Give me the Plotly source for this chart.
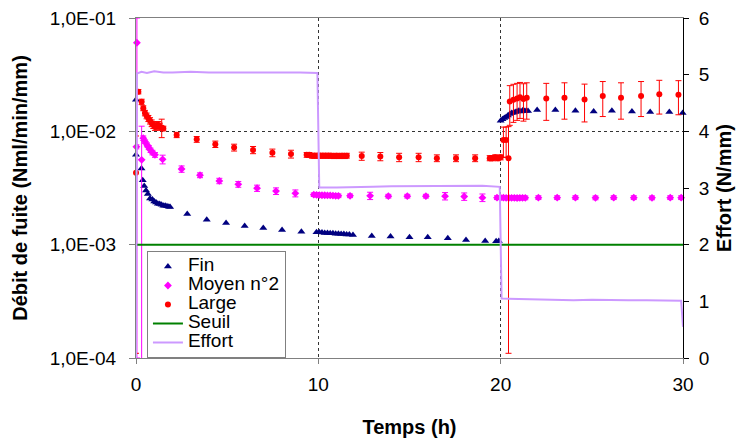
import plotly.graph_objects as go

# ---------------- data ----------------
fin_t = [0.0, 0.0, 0.3, 0.37, 0.45, 0.55, 0.65, 0.77, 0.9, 1.0, 1.1, 1.2, 1.3, 1.4, 1.5, 1.6, 1.7, 1.8, 1.87,
         2.81, 3.88, 4.94, 5.96, 6.98, 8.01, 9.07,
         9.9, 10.05, 10.2, 10.35, 10.5, 10.65, 10.8, 10.95, 11.1, 11.25, 11.4, 11.55, 11.7, 11.9,
         12.93, 13.96, 15.0, 16.0, 17.1, 18.1, 19.15, 19.75, 19.9,
         20.0, 20.1, 20.2, 20.3, 20.4, 20.5, 20.6, 20.7, 20.8, 20.9, 21.0, 21.1, 21.2, 21.3, 21.4, 21.5,
         22.0, 23.0, 24.1, 25.1, 26.1, 27.2, 28.2, 29.25, 29.98]
fin_v = [0.019, 0.0062, 0.0047, 0.0037, 0.0033, 0.0030, 0.0028, 0.00255, 0.0025, 0.0024, 0.00235, 0.0023, 0.00228, 0.00225, 0.0022, 0.0022, 0.00218, 0.00216, 0.00215,
         0.00186, 0.00166, 0.00155, 0.00146, 0.0014, 0.00135, 0.0013,
         0.00129, 0.00129, 0.00128, 0.00127, 0.00127, 0.00126, 0.00126, 0.00125, 0.00125, 0.00124, 0.00124, 0.00123, 0.00123, 0.00122,
         0.00119, 0.00118, 0.00116, 0.00116, 0.00114, 0.0011, 0.00108, 0.00107, 0.00108,
         0.0124, 0.0128, 0.0131, 0.0134, 0.0138, 0.0142, 0.0145, 0.0146, 0.0148, 0.015, 0.0152, 0.015, 0.0153, 0.0151, 0.0152, 0.0151,
         0.0154, 0.0154, 0.0152, 0.015, 0.0152, 0.015, 0.0148, 0.0148, 0.0145]

moy_t = [0.05, 0.02, 0.31, 0.4, 0.5, 0.6, 0.7, 0.8, 0.9, 1.04, 1.46, 2.5, 3.51, 4.57, 5.61, 6.64, 7.68, 8.74,
         9.75, 9.9, 10.05, 10.2, 10.35, 10.5, 10.65, 10.8, 10.95, 11.1,
         11.74, 12.84, 13.84, 14.88, 15.9, 16.95, 18.0, 19.0, 19.8,
         20.0, 20.15, 20.3, 20.45, 20.6, 20.75, 20.9, 21.05, 21.2, 21.35,
         22.07, 23.1, 24.1, 25.2, 26.2, 27.3, 28.3, 29.3, 29.9]
moy_v = [0.0605, 0.0073, 0.0056, 0.0087, 0.0081, 0.0076, 0.0072, 0.0068, 0.0065, 0.0062, 0.00566, 0.00465, 0.0041, 0.00365, 0.00341, 0.00315, 0.00297, 0.00284,
         0.00276, 0.00275, 0.00274, 0.00273, 0.00273, 0.00272, 0.00272, 0.00271, 0.0027, 0.0027,
         0.0027, 0.0027, 0.00268, 0.00268, 0.00268, 0.00268, 0.00266, 0.0026, 0.0026,
         0.0026, 0.0026, 0.00259, 0.00259, 0.00259, 0.00259, 0.00258, 0.00259, 0.00259, 0.00259,
         0.0026, 0.0026, 0.0026, 0.00259, 0.0026, 0.0026, 0.00259, 0.0026, 0.0026]
moy_err_plus = [0.0395, 0.0003, 0.0055, 0.0004, 0.0003, 0.0003, 0.0003, 0.0003, 0.0003, 0.0003, 0.0005, 0.0003, 0.0002, 0.0002, 0.0002, 0.0002, 0.0002, 0.0002,
                0.0001, 0.0001, 0.0001, 0.0001, 0.0001, 0.0001, 0.0001, 0.0001, 0.0001, 0.0001,
                0.0001, 0.0002, 0.0001, 0.0001, 0.0001, 0.0002, 0.0002, 0.0002, 0.0001,
                0.0001, 0.0001, 0.0001, 0.0001, 0.0001, 0.0001, 0.0001, 0.0001, 0.0001, 0.0001,
                0.0001, 0.0001, 0.0001, 0.0001, 0.0001, 0.0001, 0.0001, 0.0001, 0.0001]
moy_err_minus = [0.0604, 0.0003, 0.00551, 0.0004, 0.0003, 0.0003, 0.0003, 0.0003, 0.0003, 0.0003, 0.0005, 0.0003, 0.0002, 0.0002, 0.0002, 0.0002, 0.0002, 0.0002,
                 0.0001, 0.0001, 0.0001, 0.0001, 0.0001, 0.0001, 0.0001, 0.0001, 0.0001, 0.0001,
                 0.0001, 0.0002, 0.0001, 0.0001, 0.0001, 0.0002, 0.0002, 0.0002, 0.0001,
                 0.0001, 0.0001, 0.0001, 0.0001, 0.0001, 0.0001, 0.0001, 0.0001, 0.0001, 0.0001,
                 0.0001, 0.0001, 0.0001, 0.0001, 0.0001, 0.0001, 0.0001, 0.0001, 0.0001]

lar_t = [0.0, 0.13, 0.31, 0.4, 0.49, 0.58, 0.68, 0.77, 0.86, 0.95, 1.04, 1.13, 1.22, 1.31, 1.41, 1.5,
         2.23, 3.33, 4.35, 5.38, 6.42, 7.48, 8.5,
         9.36, 9.5, 9.65, 9.8, 9.95, 10.1, 10.25, 10.4, 10.55, 10.7, 10.85, 11.0, 11.15, 11.3, 11.45, 11.56,
         12.38, 13.4, 14.43, 15.5, 16.5, 17.55, 18.6,
         19.4, 19.55, 19.7, 19.85, 20.0, 20.15, 20.3, 20.43,
         20.5, 20.7, 20.9, 21.06, 21.25, 21.43,
         22.5, 23.5, 24.6, 25.6, 26.6, 27.7, 28.7, 29.75]
lar_v = [0.0043, 0.0224, 0.0182, 0.016, 0.0145, 0.0137, 0.013, 0.0124, 0.0118, 0.0114, 0.011, 0.0112, 0.0114, 0.011, 0.0108, 0.0106,
         0.0093, 0.0085, 0.0077, 0.0072, 0.00685, 0.00647, 0.00631,
         0.0062, 0.0062, 0.0061, 0.0061, 0.0061, 0.0061, 0.0061, 0.0061, 0.0061, 0.0061, 0.00605, 0.0061, 0.00605, 0.0061, 0.00605, 0.0061,
         0.00605, 0.006, 0.0059, 0.0059, 0.0058, 0.0058, 0.0058,
         0.0058, 0.0058, 0.0059, 0.0058, 0.0059, 0.0084, 0.0084, 0.0058,
         0.0183, 0.019, 0.0195, 0.02, 0.0193, 0.0198,
         0.0195, 0.0198, 0.0191, 0.0205, 0.0198, 0.0205, 0.0212, 0.021]
lar_err_plus = [0.0048, 0.001, 0.001, 0.0008, 0.0008, 0.0008, 0.0008, 0.0008, 0.0008, 0.0008, 0.0008, 0.0008, 0.0008, 0.0008, 0.002, 0.0005,
                0.0005, 0.0005, 0.0005, 0.0005, 0.0005, 0.0005, 0.0005,
                0.0003, 0.0003, 0.0003, 0.0003, 0.0003, 0.0003, 0.0003, 0.0003, 0.0003, 0.0003, 0.0003, 0.0003, 0.0003, 0.0003, 0.0003, 0.0003,
                0.0005, 0.0005, 0.0005, 0.0005, 0.0004, 0.0004, 0.0004,
                0.0003, 0.0003, 0.0003, 0.0003, 0.0003, 0.0025, 0.0025, 0.0052,
                0.007, 0.007, 0.007, 0.007, 0.007, 0.007,
                0.007, 0.007, 0.007, 0.007, 0.007, 0.007, 0.007, 0.007]
lar_err_minus = [0.00419, 0.001, 0.001, 0.0008, 0.0008, 0.0008, 0.0008, 0.0008, 0.0008, 0.0008, 0.0008, 0.0008, 0.0008, 0.0008, 0.002, 0.0005,
                 0.0005, 0.0005, 0.0005, 0.0005, 0.0005, 0.0005, 0.0005,
                 0.0003, 0.0003, 0.0003, 0.0003, 0.0003, 0.0003, 0.0003, 0.0003, 0.0003, 0.0003, 0.0003, 0.0003, 0.0003, 0.0003, 0.0003, 0.0003,
                 0.0005, 0.0005, 0.0005, 0.0005, 0.0004, 0.0004, 0.0004,
                 0.0003, 0.0003, 0.0003, 0.0003, 0.0003, 0.0025, 0.0025, 0.00569,
                 0.007, 0.007, 0.007, 0.007, 0.007, 0.007,
                 0.007, 0.007, 0.007, 0.007, 0.007, 0.007, 0.007, 0.007]

seuil_t = [0, 30]
seuil_v = [0.001, 0.001]

eff_t = [0.0, 0.05, 0.3, 0.6, 1.0, 1.5, 2.0, 3.0, 4.0, 5.0, 6.0, 7.0, 8.0, 9.0, 9.95,
         10.05, 11.0, 12.0, 13.0, 14.0, 15.0, 16.0, 17.0, 18.0, 19.0, 19.95,
         20.05, 21.0, 22.0, 23.0, 24.0, 25.0, 26.0, 27.0, 28.0, 29.0, 29.9, 30.0]
eff_v = [0.0, 5.02, 5.05, 5.03, 5.06, 5.04, 5.04, 5.05, 5.04, 5.04, 5.05, 5.04, 5.04, 5.04, 5.03,
         3.01, 3.01, 3.01, 3.02, 3.03, 3.03, 3.03, 3.04, 3.04, 3.04, 3.02,
         1.05, 1.04, 1.03, 1.02, 1.02, 1.03, 1.02, 1.02, 1.02, 1.01, 1.01, 0.55]

series_names = ["Fin", "Moyen n°2", "Large", "Seuil", "Effort"]
y_tickvals = [1e-4, 1e-3, 1e-2, 1e-1]
y_ticktext = ["1,0E-04", "1,0E-03", "1,0E-02", "1,0E-01"]
x_tickvals = [0, 10, 20, 30]
y2_tickvals = [0, 1, 2, 3, 4, 5, 6]

FONT = "Liberation Sans, Arial, sans-serif"


def leg(name):
    # larger legend text inside tightly spaced legend rows
    return "<span style='font-size:19px'>" + name + "</span>"


fig = go.Figure()
fig.add_trace(go.Scatter(
    x=fin_t, y=fin_v, name=leg(series_names[0]), mode="markers", cliponaxis=False,
    marker=dict(symbol="triangle-up", size=7, color="#000080")))
fig.add_trace(go.Scatter(
    x=moy_t, y=moy_v, name=leg(series_names[1]), mode="markers", cliponaxis=False,
    marker=dict(symbol="diamond", size=6, color="#FF00FF"),
    error_y=dict(type="data", symmetric=False, array=moy_err_plus, arrayminus=moy_err_minus,
                 color="#FF00FF", thickness=1, width=3)))
fig.add_trace(go.Scatter(
    x=lar_t, y=lar_v, name=leg(series_names[2]), mode="markers", cliponaxis=False,
    marker=dict(symbol="circle", size=6, color="#FF0000"),
    error_y=dict(type="data", symmetric=False, array=lar_err_plus, arrayminus=lar_err_minus,
                 color="#FF0000", thickness=1, width=3)))
fig.add_trace(go.Scatter(
    x=seuil_t, y=seuil_v, name=leg(series_names[3]), mode="lines",
    line=dict(color="#008000", width=2)))
fig.add_trace(go.Scatter(
    x=eff_t, y=eff_v, name=leg(series_names[4]), mode="lines", yaxis="y2",
    line=dict(color="#CC99FF", width=2)))

fig.update_layout(
    width=737, height=443,
    margin=dict(l=136, r=54, t=18, b=85, autoexpand=False),
    paper_bgcolor="white", plot_bgcolor="white",
    font=dict(family=FONT, size=19, color="black"),
    showlegend=True,
    legend=dict(x=0.02, y=0.0, xanchor="left", yanchor="bottom",
                bgcolor="white", bordercolor="#808080", borderwidth=1,
                font=dict(family=FONT, size=12, color="black"),
                itemwidth=30, tracegroupgap=0),
    xaxis=dict(range=[0, 30], tickvals=x_tickvals, ticks="outside", ticklen=5,
               tickcolor="#808080", showline=True, linecolor="#808080", linewidth=1,
               mirror=True, showgrid=True, gridcolor="#333333", griddash="dot", gridwidth=1,
               zeroline=False, tickfont=dict(size=19), automargin=False, ticklabelstandoff=4,
               title=dict(text="<b>Temps (h)</b>", font=dict(size=20), standoff=26)),
    yaxis=dict(type="log", range=[-4, -1], tickvals=y_tickvals, ticktext=y_ticktext,
               ticks="outside", ticklen=6, tickcolor="#808080",
               showline=True, linecolor="#808080", linewidth=1,
               showgrid=True, gridcolor="#333333", griddash="dot", gridwidth=1,
               zeroline=False, tickfont=dict(size=19), automargin=False, ticklabelstandoff=9,
               title=dict(text="<b>Débit de fuite (Nml/min/mm)</b>", font=dict(size=20), standoff=16)),
    yaxis2=dict(overlaying="y", side="right", range=[0, 6], tickvals=y2_tickvals,
                ticks="outside", ticklen=5, tickcolor="black",
                showline=True, linecolor="black", linewidth=1,
                showgrid=False, zeroline=False, tickfont=dict(size=19), automargin=False,
                ticklabelstandoff=6,
                title=dict(text="<b>Effort (N/mm)</b>", font=dict(size=20), standoff=8)),
)

fig.write_html("out.html", config={"displayModeBar": False},
               post_script="document.body.style.margin='0';")
